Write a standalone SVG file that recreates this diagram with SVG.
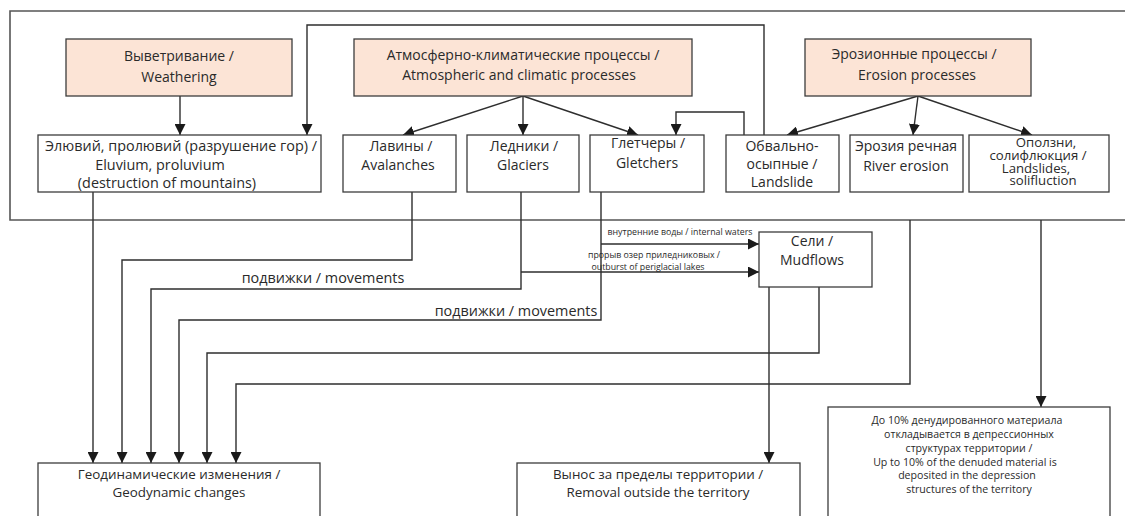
<svg xmlns="http://www.w3.org/2000/svg" width="1125" height="516" viewBox="0 0 1125 516">
  <style>
    text { font-family: "Open Sans", "Noto Sans", "Liberation Sans", sans-serif; fill: #2a2a2a; text-anchor: middle; }
    .t13 { font-size: 13.4px; }
    .t14 { font-size: 14px; }
    .t14b { font-size: 14.4px; }
    .t10 { font-size: 10.6px; }
    .t8 { font-size: 8.8px; }
    .tight { font-size: 13.2px; }
    .src { fill: #fce4d6; stroke: #3c3c3c; stroke-width: 1.3; }
    .box { fill: #ffffff; stroke: #3c3c3c; stroke-width: 1.3; }
    .frame { fill: none; stroke: #555555; stroke-width: 1.6; }
    .edge { fill: none; stroke: #2e2e2e; stroke-width: 1.4; }
    .arr { marker-end: url(#head); }
  </style>
  <defs>
    <marker id="head" markerWidth="11" markerHeight="11" refX="11" refY="5.5" orient="auto" markerUnits="userSpaceOnUse">
      <path d="M0,0 L11,5.5 L0,11 Z" fill="#1a1a1a"/>
    </marker>
  </defs>

  <rect width="1125" height="516" fill="#ffffff"/>

  <!-- enclosing frame of the process block (open to the right) -->
  <path class="frame" d="M1125,11 H10 V220 H1125"/>

  <!-- connectors -->
  <g id="connectors">
    <line class="edge arr" x1="180" y1="96" x2="180" y2="135"/>
    <polyline class="edge arr" points="764,135 764,25 307,25 307,135"/>
    <polyline class="edge arr" points="744,135 744,112 676,112 676,135"/>
    <line class="edge arr" x1="523" y1="96" x2="403" y2="135"/>
    <line class="edge arr" x1="523" y1="96" x2="523" y2="135"/>
    <line class="edge arr" x1="523" y1="96" x2="638" y2="135"/>
    <line class="edge arr" x1="918" y1="96" x2="787" y2="135"/>
    <line class="edge arr" x1="918" y1="96" x2="913" y2="135"/>
    <line class="edge arr" x1="918" y1="96" x2="1032" y2="135"/>

    <line class="edge arr" x1="93" y1="192" x2="93" y2="463"/>
    <polyline class="edge arr" points="412,192 412,260 122,260 122,463"/>
    <polyline class="edge arr" points="521,192 521,289 151,289 151,463"/>
    <polyline class="edge arr" points="601,192 601,320 179,320 179,463"/>
    <polyline class="edge arr" points="819,287 819,353 207,353 207,463"/>
    <polyline class="edge arr" points="910,220 910,384 236,384 236,463"/>
    <line class="edge arr" x1="769" y1="287" x2="769" y2="463"/>
    <line class="edge arr" x1="1041" y1="220" x2="1041" y2="407"/>

    <line class="edge arr" x1="601" y1="244" x2="759" y2="244"/>
    <line class="edge arr" x1="521" y1="272" x2="759" y2="272"/>

    <text class="t14b" x="323" y="283">подвижки / movements</text>
    <text class="t14b" x="516" y="316">подвижки / movements</text>
    <text class="t8" x="680" y="235">внутренние воды / internal waters</text>
    <text class="t8" x="654" y="258">прорыв озер приледниковых /</text>
    <text class="t8" x="648" y="270">outburst of periglacial lakes</text>
  </g>

  <!-- source processes -->
  <g id="weathering">
    <rect class="src" x="66" y="39" width="226" height="57"/>
    <text class="t14" x="179" y="61">Выветривание /</text>
    <text class="t14" x="179" y="82">Weathering</text>
  </g>
  <g id="atmospheric">
    <rect class="src" x="354" y="39" width="338" height="57"/>
    <text class="t14" x="523" y="60">Атмосферно-климатические процессы /</text>
    <text class="t14" x="519" y="80">Atmospheric and climatic processes</text>
  </g>
  <g id="erosion">
    <rect class="src" x="805" y="39" width="226" height="57"/>
    <text class="t14" x="914" y="59">Эрозионные процессы /</text>
    <text class="t14" x="917" y="80">Erosion processes</text>
  </g>

  <!-- second-level processes -->
  <g id="eluvium">
    <rect class="box" x="38" y="135" width="283" height="57"/>
    <text class="t14b" x="181" y="151">Элювий, пролювий (разрушение гор) /</text>
    <text class="t14b" x="160" y="170">Eluvium, proluvium</text>
    <text class="t14b" x="167" y="188">(destruction of mountains)</text>
  </g>
  <g id="avalanches">
    <rect class="box" x="343" y="135" width="113" height="57"/>
    <text class="t14" x="401" y="151">Лавины /</text>
    <text class="t14" x="398" y="170">Avalanches</text>
  </g>
  <g id="glaciers">
    <rect class="box" x="467" y="135" width="112" height="57"/>
    <text class="t14" x="524" y="151">Ледники /</text>
    <text class="t14" x="523" y="170">Glaciers</text>
  </g>
  <g id="gletchers">
    <rect class="box" x="590" y="135" width="114" height="57"/>
    <text class="t14" x="648" y="148">Глетчеры /</text>
    <text class="t14" x="647" y="168">Gletchers</text>
  </g>
  <g id="landslide">
    <rect class="box" x="726" y="135" width="113" height="57"/>
    <text class="t14" x="782" y="151">Обвально-</text>
    <text class="t14" x="782" y="169">осыпные /</text>
    <text class="t14" x="782" y="187">Landslide</text>
  </g>
  <g id="river-erosion">
    <rect class="box" x="850" y="135" width="113" height="57"/>
    <text class="t14" x="906" y="151">Эрозия речная</text>
    <text class="t14" x="906" y="171">River erosion</text>
  </g>
  <g id="landslides">
    <rect class="box" x="969" y="135" width="140" height="57"/>
    <text class="tight" x="1046" y="147">Оползни,</text>
    <text class="tight" x="1038" y="160">солифлюкция /</text>
    <text class="tight" x="1036" y="173">Landslides,</text>
    <text class="tight" x="1043" y="185">solifluction</text>
  </g>

  <g id="mudflows">
    <rect class="box" x="759" y="232" width="113" height="55"/>
    <text class="t14" x="812" y="246">Сели /</text>
    <text class="t14" x="812" y="265">Mudflows</text>
  </g>

  <!-- outcomes -->
  <g id="geodynamic">
    <rect class="box" x="38" y="463" width="282" height="60"/>
    <text class="t13" x="179" y="479">Геодинамические изменения /</text>
    <text class="t13" x="179" y="497">Geodynamic changes</text>
  </g>
  <g id="removal">
    <rect class="box" x="517" y="463" width="283" height="60"/>
    <text class="t13" x="658" y="479">Вынос за пределы территории /</text>
    <text class="t13" x="658" y="497">Removal outside the territory</text>
  </g>
  <g id="deposition">
    <rect class="box" x="828" y="407" width="282" height="116"/>
    <text class="t10" x="967" y="424">До 10% денудированного материала</text>
    <text class="t10" x="969" y="438">откладывается в депрессионных</text>
    <text class="t10" x="969" y="452">структурах территории /</text>
    <text class="t10" x="965" y="466">Up to 10% of the denuded material is</text>
    <text class="t10" x="967" y="479">deposited in the depression</text>
    <text class="t10" x="969" y="493">structures of the territory</text>
  </g>
</svg>
